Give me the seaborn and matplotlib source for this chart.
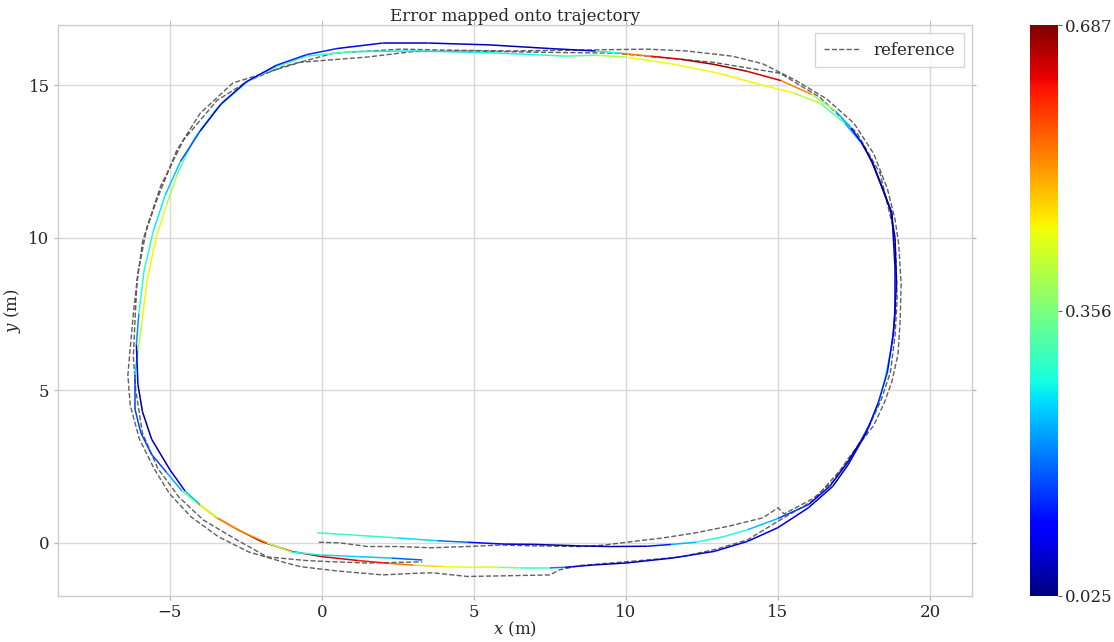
import numpy as np
import pandas as pd
import matplotlib
matplotlib.use("Agg")
import matplotlib.pyplot as plt
from matplotlib.collections import LineCollection
from matplotlib.colors import Normalize
from matplotlib.cm import ScalarMappable
import seaborn as sns

# Estimated trajectory (x, y in metres) and the APE at each pose
est_x = [-0.15, 1.0, 2.5, 3.8, 4.8, 6.0, 7.0, 8.5, 9.5, 10.7, 11.5, 12.3, 13.2, 14.0,
         15.0, 16.0, 16.7, 17.3, 17.7, 18.05, 18.35, 18.55, 18.75, 18.85, 18.85, 18.75,
         18.45, 18.1, 17.75, 17.2, 16.4, 15.5, 14.5, 13.0, 11.5, 10.0, 9.0, 8.0, 7.0,
         5.0, 3.0, 1.0, -0.5, -1.5, -2.4, -3.45, -4.2, -4.75, -5.1, -5.45, -5.75,
         -5.92, -6.05, -6.15, -6.15, -5.95, -5.6, -5.1, -4.6, -4.1, -3.5, -2.8, -2.0,
         -1.0, 0.0, 1.2, 2.2, 3.0, 4.0, 5.0, 5.8, 6.5, 7.5, 8.0, 9.0, 10.0, 11.5, 12.9,
         14.0, 15.0, 16.0, 16.8, 17.3, 17.9, 18.3, 18.6, 18.8, 18.9, 18.85, 18.7, 18.4,
         18.1, 17.8, 17.4, 16.9, 16.1, 15.1, 14.0, 12.9, 11.8, 10.8, 9.8, 9.0, 7.5,
         5.5, 3.5, 2.0, 0.5, -0.5, -1.5, -2.5, -3.3, -4.0, -4.65, -5.15, -5.55, -5.85,
         -6.02, -6.1, -6.05, -5.9, -5.6, -5.0, -4.5, -4.0, -3.4, -2.6, -1.8, -1.0, 0.0,
         1.2, 2.3, 3.3]
est_y = [0.33, 0.26, 0.16, 0.07, 0.02, -0.04, -0.05, -0.10, -0.12, -0.11, -0.05, 0.02,
         0.20, 0.43, 0.80, 1.25, 1.85, 2.65, 3.30, 3.95, 4.70, 5.50, 6.50, 7.50, 9.00,
         10.80, 11.60, 12.50, 13.10, 13.75, 14.40, 14.75, 15.00, 15.40, 15.70, 15.92,
         15.98, 15.95, 16.00, 16.08, 16.12, 16.10, 15.95, 15.60, 15.15, 14.25, 13.25,
         12.10, 11.10, 10.00, 8.60, 7.20, 6.30, 5.50, 4.40, 3.60, 2.90, 2.30, 1.70,
         1.30, 0.85, 0.45, 0.05, -0.28, -0.45, -0.58, -0.67, -0.73, -0.78, -0.80,
         -0.80, -0.82, -0.82, -0.80, -0.72, -0.66, -0.50, -0.28, 0.05, 0.50, 1.15,
         1.85, 2.55, 3.60, 4.60, 5.60, 6.90, 8.50, 10.00, 10.90, 11.70, 12.45, 13.05,
         13.60, 14.15, 14.70, 15.15, 15.45, 15.68, 15.85, 15.95, 16.05, 16.12, 16.20,
         16.32, 16.38, 16.38, 16.20, 16.00, 15.65, 15.10, 14.40, 13.50, 12.50, 11.40,
         10.20, 8.90, 7.50, 6.50, 5.20, 4.30, 3.40, 2.40, 1.70, 1.25, 0.80, 0.35, 0.00,
         -0.30, -0.40, -0.45, -0.50, -0.56]
est_err = [0.30, 0.31, 0.28, 0.22, 0.15, 0.08, 0.05, 0.04, 0.05, 0.07, 0.18, 0.27, 0.30,
           0.28, 0.18, 0.12, 0.08, 0.07, 0.10, 0.18, 0.28, 0.30, 0.20, 0.10, 0.06, 0.05,
           0.06, 0.08, 0.15, 0.28, 0.38, 0.44, 0.46, 0.45, 0.45, 0.44, 0.35, 0.30, 0.28,
           0.26, 0.25, 0.28, 0.32, 0.32, 0.30, 0.26, 0.30, 0.36, 0.42, 0.45, 0.46, 0.45,
           0.35, 0.15, 0.15, 0.15, 0.15, 0.16, 0.28, 0.42, 0.55, 0.66, 0.68, 0.66, 0.64,
           0.62, 0.60, 0.50, 0.45, 0.44, 0.40, 0.32, 0.28, 0.10, 0.05, 0.05, 0.07, 0.08,
           0.08, 0.07, 0.08, 0.06, 0.05, 0.07, 0.12, 0.14, 0.08, 0.04, 0.04, 0.05, 0.04,
           0.03, 0.05, 0.15, 0.30, 0.45, 0.62, 0.66, 0.68, 0.66, 0.60, 0.48, 0.08, 0.05,
           0.06, 0.08, 0.08, 0.12, 0.15, 0.12, 0.08, 0.06, 0.10, 0.22, 0.25, 0.28, 0.30,
           0.28, 0.12, 0.04, 0.03, 0.05, 0.05, 0.12, 0.35, 0.50, 0.55, 0.50, 0.30, 0.25,
           0.25, 0.22, 0.12]

# Reference (ground-truth) trajectory
ref_x = [-0.10, 0.60, 1.50, 2.50, 3.60, 4.80, 5.90, 7.00, 8.50, 9.20, 10.10, 11.20,
         12.30, 13.40, 14.50, 15.00, 15.20, 16.15, 16.80, 17.30, 17.80, 18.15, 18.50,
         18.75, 18.95, 19.02, 19.05, 18.97, 18.85, 18.60, 18.15, 17.50, 16.60, 15.60,
         14.50, 13.50, 12.00, 10.70, 8.50, 6.00, 4.00, 2.60, 0.40, -1.30, -2.40, -3.45,
         -4.55, -5.30, -5.75, -6.05, -6.20, -6.30, -6.38, -6.30, -6.00, -5.50, -5.00,
         -4.30, -3.40, -2.40, -1.20, -0.70, 0.50, 2.00, 3.00, 3.65, 4.77, 6.00, 7.50,
         7.83, 8.50, 10.00, 11.80, 13.00, 14.00, 15.07, 16.15, 17.20, 17.90, 18.40,
         18.70, 18.85, 18.92, 18.87, 18.78, 18.36, 17.60, 16.38, 15.07, 12.86, 9.60,
         7.00, 5.00, 3.00, 1.48, -0.72, -2.93, -4.00, -4.77, -5.43, -5.89, -6.08,
         -6.15, -6.20, -6.12, -5.90, -5.40, -4.70, -3.90, -2.80, -1.80, -0.50, 0.36,
         1.48, 2.50, 3.30]
ref_y = [0.02, 0.00, -0.12, -0.12, -0.16, -0.12, -0.07, -0.10, -0.12, -0.08, 0.03, 0.16,
         0.33, 0.55, 0.82, 1.15, 0.95, 1.45, 2.00, 2.75, 3.40, 3.85, 4.60, 5.30, 6.20,
         7.30, 8.50, 9.80, 10.60, 11.60, 12.75, 13.75, 14.55, 15.15, 15.70, 15.95, 16.12,
         16.18, 16.15, 16.12, 16.15, 16.18, 16.05, 15.60, 15.15, 14.50, 13.20, 11.70,
         10.35, 8.85, 7.50, 6.40, 5.50, 4.50, 3.40, 2.40, 1.60, 0.85, 0.20, -0.30,
         -0.65, -0.78, -0.92, -1.05, -1.00, -0.98, -1.10, -1.08, -1.05, -0.88, -0.74,
         -0.62, -0.46, -0.20, 0.10, 0.75, 1.38, 2.55, 3.60, 4.70, 5.60, 6.80, 8.00,
         9.50, 10.35, 12.10, 13.43, 14.60, 15.39, 15.75, 16.05, 16.08, 16.12, 16.10,
         15.92, 15.75, 15.07, 14.08, 12.87, 11.23, 9.92, 8.52, 7.20, 6.10, 5.00, 3.60,
         2.45, 1.50, 0.75, 0.10, -0.46, -0.58, -0.62, -0.66, -0.64, -0.62]

cbar_ticks = [0.025, 0.356, 0.687]
title = "Error mapped onto trajectory"

sns.set_theme(style="whitegrid")
plt.rcParams["font.family"] = ["DejaVu Serif"]
plt.rcParams["mathtext.fontset"] = "dejavuserif"

fig = plt.figure(figsize=(11.14, 6.42), dpi=100)
ax = fig.add_axes([0.052, 0.0717, 0.8205, 0.8893])
cax = fig.add_axes([0.9246, 0.0717, 0.0251, 0.8893])

ref_df = pd.DataFrame({"x": ref_x, "y": ref_y})
sns.lineplot(data=ref_df, x="x", y="y", sort=False, estimator=None, ax=ax,
             color="#606060", linestyle="--", linewidth=1.0, label="reference")

cmap = plt.get_cmap("jet")
norm = Normalize(vmin=min(cbar_ticks), vmax=max(cbar_ticks))
pts = np.column_stack([est_x, est_y])
segs = np.stack([pts[:-1], pts[1:]], axis=1)
seg_err = (np.asarray(est_err[:-1]) + np.asarray(est_err[1:])) / 2.0
lc = LineCollection(segs, cmap=cmap, norm=norm, linewidths=1.1)
lc.set_array(seg_err)
ax.add_collection(lc)

ax.set_xlim(-8.68, 21.38)
ax.set_ylim(-1.74, 16.97)
ax.set_xticks([-5, 0, 5, 10, 15, 20])
ax.set_yticks([0, 5, 10, 15])
ax.set_xlabel("$x$ (m)", fontsize=12, labelpad=-1)
ax.set_ylabel("$y$ (m)", fontsize=12, labelpad=4)
ax.set_title(title, fontsize=12, color="#262626", pad=3)
ax.tick_params(axis="both", which="both", direction="out", length=3, width=0.8,
               color="#b0b0b0", labelsize=12, labelcolor="#262626", pad=3,
               bottom=True, top=True, left=True, right=True)
ax.grid(True, color="#d9d9d9", linewidth=1.0)
for sp in ax.spines.values():
    sp.set_color("#cccccc")
    sp.set_linewidth(1.0)

leg = ax.legend(loc="upper right", fontsize=12, frameon=True, fancybox=False,
                handlelength=2.2, borderpad=0.5)
leg.get_frame().set_edgecolor("#cccccc")
leg.get_frame().set_linewidth(1.0)

sm = ScalarMappable(norm=norm, cmap=cmap)
cbar = fig.colorbar(sm, cax=cax, ticks=cbar_ticks)
cbar.ax.set_yticklabels([f"{t:.3f}" for t in cbar_ticks])
cbar.ax.tick_params(labelsize=12, length=3, width=0.8, color="#606060",
                    labelcolor="#262626", right=True, direction="out", pad=2)
cbar.outline.set_visible(False)

fig.savefig("out.png", dpi=100)
